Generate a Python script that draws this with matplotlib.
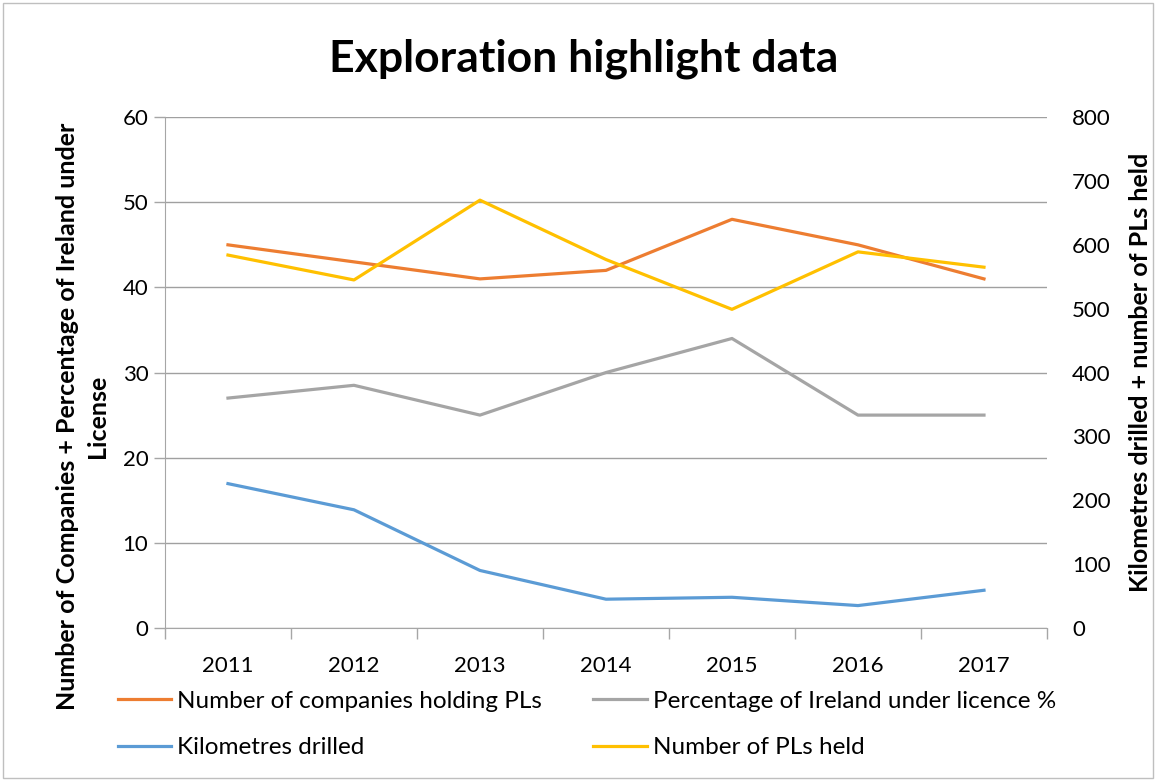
import matplotlib
matplotlib.use("Agg")
import matplotlib.pyplot as plt
from matplotlib.patches import Rectangle

plt.rcParams['font.family'] = ['Lato', 'DejaVu Sans']

# data
years = ['2011', '2012', '2013', '2014', '2015', '2016', '2017']
companies = [45, 43, 41, 42, 48, 45, 41]            # left axis
pct_licence = [27, 28.5, 25, 30, 34, 25, 25]        # left axis
km_drilled = [226, 185, 90, 45, 48, 35, 59]         # right axis
pls_held = [584, 545, 670, 577, 499, 589, 565]      # right axis

c_orange = '#ED7D31'
c_gray = '#A5A5A5'
c_blue = '#5B9BD5'
c_yellow = '#FFC000'
axis_col = '#A6A6A6'

fig = plt.figure(figsize=(11.56, 7.81), dpi=100)
ax = fig.add_axes([0.1427, 0.196, 0.763, 0.654])
ax2 = ax.twinx()

x = list(range(len(years)))
lw = 2.3
l1, = ax.plot(x, companies, color=c_orange, lw=lw, label='Number of companies holding PLs')
l2, = ax.plot(x, pct_licence, color=c_gray, lw=lw, label='Percentage of Ireland under licence %')
l3, = ax2.plot(x, km_drilled, color=c_blue, lw=lw, label='Kilometres drilled')
l4, = ax2.plot(x, pls_held, color=c_yellow, lw=lw, label='Number of PLs held')

ax.set_xlim(-0.5, 6.5)
ax.set_ylim(0, 60)
ax.set_yticks(range(0, 61, 10))
ax2.set_ylim(0, 800)
ax2.set_yticks(range(0, 801, 100))

ax.set_xticks(x)
ax.set_xticklabels(years)
ax.set_xticks([i - 0.5 for i in range(len(years) + 1)], minor=True)
ax.tick_params(axis='x', which='major', length=0, labelsize=16, pad=20)
ax.tick_params(axis='x', which='minor', length=8, color=axis_col, width=1, direction='out')
ax.tick_params(axis='y', length=8, color=axis_col, width=1, labelsize=16, pad=4)
ax2.tick_params(axis='y', length=0, labelsize=16, pad=18)

ax.yaxis.grid(True, color='#A0A0A0', lw=1)
ax.set_axisbelow(True)
for s in ['top', 'right']:
    ax.spines[s].set_visible(False)
for s in ['top', 'right', 'left', 'bottom']:
    ax2.spines[s].set_visible(False)
ax.spines['left'].set_color(axis_col)
ax.spines['bottom'].set_color(axis_col)

ax.set_ylabel('Number of Companies + Percentage of Ireland under\nLicense',
              fontsize=18, fontweight='bold', linespacing=1.4)
ax.yaxis.set_label_coords(-0.063, 0.415)
ax2.set_ylabel('Kilometres drilled + number of PLs held',
               fontsize=18, fontweight='bold', labelpad=13)

fig.text(0.505, 0.925, 'Exploration highlight data', ha='center', va='center',
         fontsize=32, fontweight='bold')

fig.legend([l1, l3, l2, l4], [h.get_label() for h in [l1, l3, l2, l4]],
           ncol=2, loc='upper left', bbox_to_anchor=(0.083, 0.1434),
           frameon=False, fontsize=17.5, handlelength=2.2, handletextpad=0.25,
           labelspacing=1.05, columnspacing=2.1)

fig.patches.append(Rectangle((0.003, 0.004), 0.994, 0.992, transform=fig.transFigure,
                             fill=False, edgecolor='#BFBFBF', lw=1))

fig.savefig('out.png', dpi=100)
